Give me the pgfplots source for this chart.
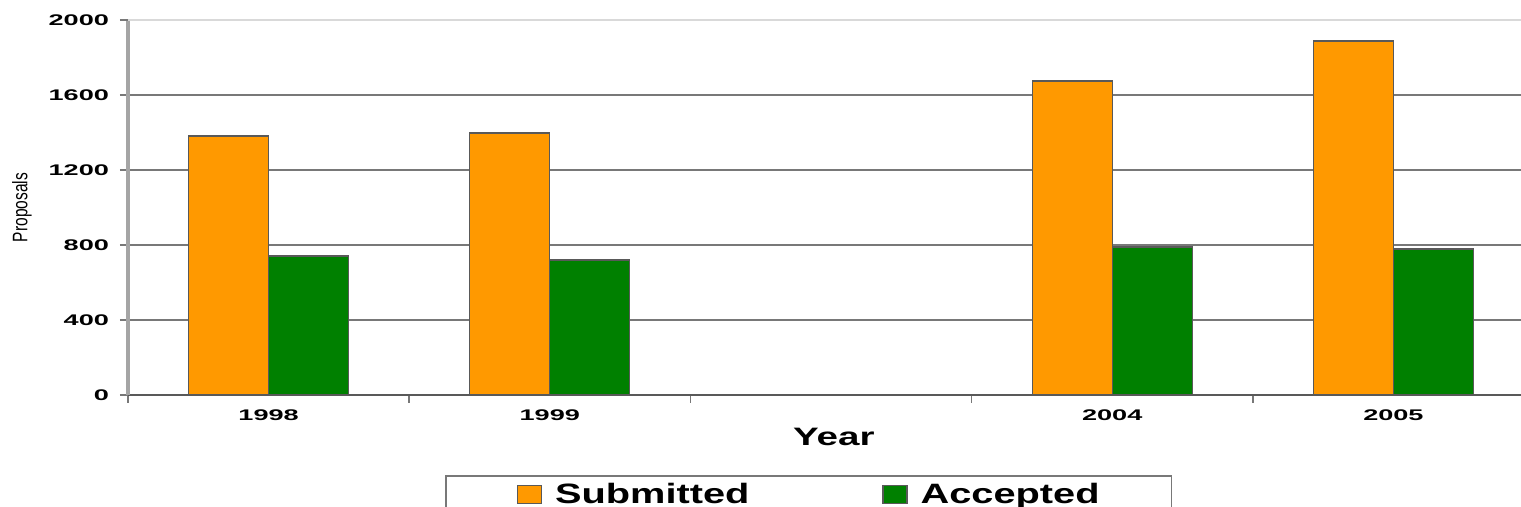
\documentclass[border=0pt]{standalone}
\usepackage{fontspec}
\setmainfont{Liberation Sans}
\usepackage{pgfplots}
\pgfplotsset{compat=1.18}
\definecolor{sub}{RGB}{255,153,0}
\definecolor{acc}{RGB}{0,128,0}
\definecolor{gridc}{RGB}{120,120,120}
\definecolor{axc}{RGB}{165,165,165}
\newcommand{\xl}[1]{\scalebox{1.76}[1]{#1}}
\begin{document}
\begin{tikzpicture}
\clip (0,0) rectangle (760.5pt,253.5pt);
\begin{axis}[
 at={(64pt,56pt)}, anchor=south west,
 scale only axis, width=703pt, height=187.5pt,
 xmin=-0.5, xmax=4.5, ymin=0, ymax=2000,
 axis lines=left, separate axis lines, axis line style={-},
 x axis line style={draw=black!65, line width=0.8pt},
 y axis line style={draw=axc, line width=2pt},
 xtick={-0.5,0.5,1.5,2.5,3.5,4.5},
 x tick label as interval,
 xticklabels={\xl{1998},\xl{1999},{},\xl{2004},\xl{2005}},
 ytick={0,400,800,1200,1600},
 extra y ticks={2000},
 extra y tick style={grid style={draw=black!15, line width=1pt}},
 ymajorgrids,
 grid style={draw=gridc, line width=0.8pt},
 tick align=outside,
 major tick length=4pt,
 tick style={draw=gridc, line width=0.8pt},
 /pgf/number format/assume math mode=true,
 /pgf/number format/1000 sep={},
 yticklabel={\scalebox{1.76}[1]{\pgfmathprintnumber{\tick}}},
 yticklabel style={font=\fontsize{7.7}{9}\selectfont\bfseries, anchor=east, xshift=-2pt},
 xticklabel style={font=\fontsize{7.7}{9}\selectfont\bfseries, anchor=center, yshift=-6pt},
 xlabel={\scalebox{1.53}[1]{Year}},
 xlabel style={font=\fontsize{12.6}{14}\selectfont\bfseries, at={(axis description cs:0.502,-0.112)}, anchor=center},
 ylabel={\scalebox{0.74}[1]{Proposals}},
 ylabel style={font=\fontsize{10.5}{12}\selectfont, at={(axis description cs:-0.0754,0.5)}, anchor=center},
 legend columns=2,
 legend cell align=left,
 legend image code/.code={\path (-35.5pt,0pt) (18.5pt,0pt); \draw[#1,/tikz/.cd] (0pt,-4.5pt) rectangle (12pt,4.5pt);},
 legend style={at={(axis description cs:0.2255,-0.2133)}, anchor=north west,
   draw=gridc, line width=0.8pt, inner xsep=0pt, inner ysep=3.5pt,
   font=\fontsize{14}{16}\selectfont\bfseries,
   nodes={inner sep=0pt}, column sep=0pt},
]
\addplot[ybar, bar width=40pt, bar shift=-20pt, fill=sub, draw=black!65, line width=0.6pt]
 coordinates {(0,1381) (1,1397) (3,1675) (4,1888)};
\addplot[ybar, bar width=40pt, bar shift=20pt, fill=acc, draw=black!65, line width=0.6pt]
 coordinates {(0,741) (1,720) (3,789) (4,779)};
\legend{\scalebox{1.42}[1]{Submitted}\rule{31pt}{0pt},\scalebox{1.42}[1]{Accepted}\rule{36pt}{0pt}}
\end{axis}
\end{tikzpicture}
\end{document}
